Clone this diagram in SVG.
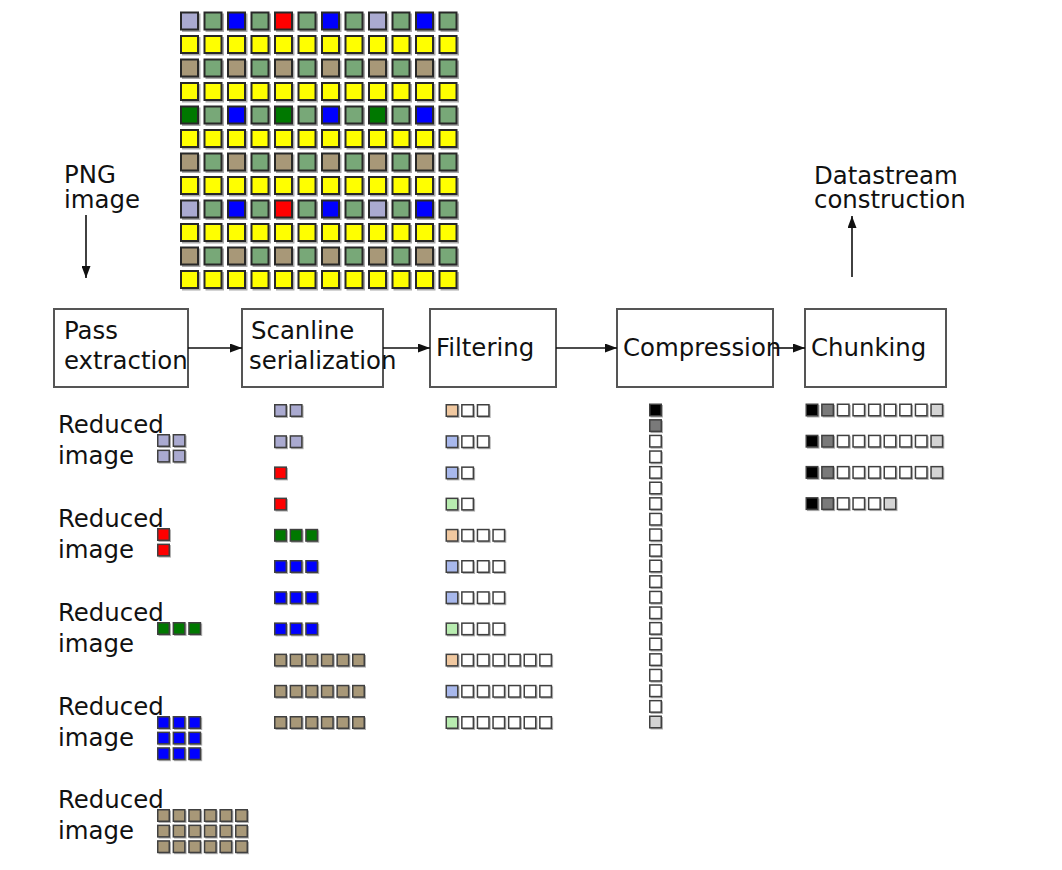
<svg xmlns="http://www.w3.org/2000/svg" xmlns:xlink="http://www.w3.org/1999/xlink" width="1062" height="870" viewBox="0 0 1062 870">
<style>
text{font-family:"DejaVu Sans","Liberation Sans",sans-serif;font-size:24.4px;fill:#111}
.box{fill:#fff;stroke:#555;stroke-width:2}
.conn{stroke:#111;stroke-width:1.6;fill:none}
</style>
<defs>
<marker id="ah" markerWidth="12" markerHeight="9" refX="12" refY="4.5" orient="auto" markerUnits="userSpaceOnUse"><path d="M0,0 L12,4.5 L0,9 Z" fill="#111"/></marker>
<g id="c"><rect x="2" y="2" width="18.5" height="18.5" fill="#aaa"/><rect x="1" y="1" width="17" height="17" stroke="#282828" stroke-width="2"/></g>
<g id="s"><rect x="1.5" y="1.5" width="12.5" height="12.5" fill="#b0b0b0"/><rect x="0.75" y="0.75" width="11.5" height="11.5" stroke="#404040" stroke-width="1.5"/></g>
<g id="rowA"><use href="#c" x="180" fill="#aaaad0"/><use href="#c" x="203.5" fill="#78a878"/><use href="#c" x="227" fill="#0000ff"/><use href="#c" x="250.5" fill="#78a878"/><use href="#c" x="274" fill="#ff0000"/><use href="#c" x="297.5" fill="#78a878"/><use href="#c" x="321" fill="#0000ff"/><use href="#c" x="344.5" fill="#78a878"/><use href="#c" x="368" fill="#aaaad0"/><use href="#c" x="391.5" fill="#78a878"/><use href="#c" x="415" fill="#0000ff"/><use href="#c" x="438.5" fill="#78a878"/></g>
<g id="rowG"><use href="#c" x="180" fill="#007800"/><use href="#c" x="203.5" fill="#78a878"/><use href="#c" x="227" fill="#0000ff"/><use href="#c" x="250.5" fill="#78a878"/><use href="#c" x="274" fill="#007800"/><use href="#c" x="297.5" fill="#78a878"/><use href="#c" x="321" fill="#0000ff"/><use href="#c" x="344.5" fill="#78a878"/><use href="#c" x="368" fill="#007800"/><use href="#c" x="391.5" fill="#78a878"/><use href="#c" x="415" fill="#0000ff"/><use href="#c" x="438.5" fill="#78a878"/></g>
<g id="rowT"><use href="#c" x="180" fill="#a89878"/><use href="#c" x="203.5" fill="#78a878"/><use href="#c" x="227" fill="#a89878"/><use href="#c" x="250.5" fill="#78a878"/><use href="#c" x="274" fill="#a89878"/><use href="#c" x="297.5" fill="#78a878"/><use href="#c" x="321" fill="#a89878"/><use href="#c" x="344.5" fill="#78a878"/><use href="#c" x="368" fill="#a89878"/><use href="#c" x="391.5" fill="#78a878"/><use href="#c" x="415" fill="#a89878"/><use href="#c" x="438.5" fill="#78a878"/></g>
<g id="rowY" fill="#ffff00"><use href="#c" x="180"/><use href="#c" x="203.5"/><use href="#c" x="227"/><use href="#c" x="250.5"/><use href="#c" x="274"/><use href="#c" x="297.5"/><use href="#c" x="321"/><use href="#c" x="344.5"/><use href="#c" x="368"/><use href="#c" x="391.5"/><use href="#c" x="415"/><use href="#c" x="438.5"/></g>
<g id="w2" fill="#fff"><use href="#s" x="15.6"/><use href="#s" x="31.2"/></g>
<g id="w1" fill="#fff"><use href="#s" x="15.6"/></g>
<g id="w3" fill="#fff"><use href="#s" x="15.6"/><use href="#s" x="31.2"/><use href="#s" x="46.8"/></g>
<g id="w6" fill="#fff"><use href="#s" x="15.6"/><use href="#s" x="31.2"/><use href="#s" x="46.8"/><use href="#s" x="62.4"/><use href="#s" x="78"/><use href="#s" x="93.6"/></g>
<g id="ch9"><use href="#s" x="0" fill="#000"/><use href="#s" x="15.6" fill="#7a7a7a"/><g fill="#fff"><use href="#s" x="31.2"/><use href="#s" x="46.8"/><use href="#s" x="62.4"/><use href="#s" x="78"/><use href="#s" x="93.6"/><use href="#s" x="109.2"/></g><use href="#s" x="124.8" fill="#d4d4d4"/></g>
</defs>
<rect width="1062" height="870" fill="#fff"/>

<g id="png-grid">
<use href="#rowA" y="11.5"/><use href="#rowY" y="35"/><use href="#rowT" y="58.5"/><use href="#rowY" y="82"/>
<use href="#rowG" y="105.5"/><use href="#rowY" y="129"/><use href="#rowT" y="152.5"/><use href="#rowY" y="176"/>
<use href="#rowA" y="199.5"/><use href="#rowY" y="223"/><use href="#rowT" y="246.5"/><use href="#rowY" y="270"/>
</g>

<g id="png-label"><text x="64" y="183">PNG</text><text x="64" y="208">image</text></g>
<g id="ds-label"><text x="814" y="184">Datastream</text><text x="814" y="208">construction</text></g>

<g id="pass-extraction"><rect class="box" x="54" y="309" width="134" height="78"/><text x="64" y="339">Pass</text><text x="64" y="369">extraction</text></g>
<g id="scanline-serialization"><rect class="box" x="242" y="309" width="141" height="78"/><text x="251" y="339">Scanline</text><text x="249" y="369">serialization</text></g>
<g id="filtering"><rect class="box" x="430" y="309" width="126" height="78"/><text x="436" y="356">Filtering</text></g>
<g id="compression"><rect class="box" x="617" y="309" width="156" height="78"/><text x="623" y="356">Compression</text></g>
<g id="chunking"><rect class="box" x="805" y="309" width="141" height="78"/><text x="811" y="356">Chunking</text></g>

<g id="connectors">
<line class="conn" x1="86" y1="215" x2="86" y2="278" stroke="#333" marker-end="url(#ah)"/>
<line class="conn" x1="188" y1="348" x2="242" y2="348" marker-end="url(#ah)"/>
<line class="conn" x1="383" y1="348" x2="430" y2="348" marker-end="url(#ah)"/>
<line class="conn" x1="556" y1="348" x2="617" y2="348" marker-end="url(#ah)"/>
<line class="conn" x1="773" y1="348" x2="805" y2="348" marker-end="url(#ah)"/>
<line class="conn" x1="852" y1="277" x2="852" y2="216" marker-end="url(#ah)"/>
</g>

<g id="reduced-images">
<text x="58" y="433">Reduced</text><text x="58" y="464">image</text>
<g fill="#aaaad0"><use href="#s" x="157" y="434"/><use href="#s" x="172.6" y="434"/><use href="#s" x="157" y="449.6"/><use href="#s" x="172.6" y="449.6"/></g>
<text x="58" y="527">Reduced</text><text x="58" y="558">image</text>
<g fill="#ff0000"><use href="#s" x="157" y="528"/><use href="#s" x="157" y="543.6"/></g>
<text x="58" y="621">Reduced</text><text x="58" y="652">image</text>
<g fill="#007800"><use href="#s" x="157" y="622"/><use href="#s" x="172.6" y="622"/><use href="#s" x="188.2" y="622"/></g>
<text x="58" y="715">Reduced</text><text x="58" y="746">image</text>
<g fill="#0000ff"><use href="#s" x="157" y="716"/><use href="#s" x="172.6" y="716"/><use href="#s" x="188.2" y="716"/><use href="#s" x="157" y="731.6"/><use href="#s" x="172.6" y="731.6"/><use href="#s" x="188.2" y="731.6"/><use href="#s" x="157" y="747.2"/><use href="#s" x="172.6" y="747.2"/><use href="#s" x="188.2" y="747.2"/></g>
<text x="58" y="808">Reduced</text><text x="58" y="839">image</text>
<g fill="#a89878">
<use href="#s" x="157" y="809"/><use href="#s" x="172.6" y="809"/><use href="#s" x="188.2" y="809"/><use href="#s" x="203.8" y="809"/><use href="#s" x="219.4" y="809"/><use href="#s" x="235" y="809"/>
<use href="#s" x="157" y="824.6"/><use href="#s" x="172.6" y="824.6"/><use href="#s" x="188.2" y="824.6"/><use href="#s" x="203.8" y="824.6"/><use href="#s" x="219.4" y="824.6"/><use href="#s" x="235" y="824.6"/>
<use href="#s" x="157" y="840.2"/><use href="#s" x="172.6" y="840.2"/><use href="#s" x="188.2" y="840.2"/><use href="#s" x="203.8" y="840.2"/><use href="#s" x="219.4" y="840.2"/><use href="#s" x="235" y="840.2"/>
</g>
</g>

<g id="scanlines" transform="translate(274,0)">
<g fill="#aaaad0"><use href="#s" y="404"/><use href="#s" x="15.6" y="404"/><use href="#s" y="435.2"/><use href="#s" x="15.6" y="435.2"/></g>
<g fill="#ff0000"><use href="#s" y="466.4"/><use href="#s" y="497.6"/></g>
<g fill="#007800"><use href="#s" y="528.8"/><use href="#s" x="15.6" y="528.8"/><use href="#s" x="31.2" y="528.8"/></g>
<g fill="#0000ff"><use href="#s" y="560"/><use href="#s" x="15.6" y="560"/><use href="#s" x="31.2" y="560"/><use href="#s" y="591.2"/><use href="#s" x="15.6" y="591.2"/><use href="#s" x="31.2" y="591.2"/><use href="#s" y="622.4"/><use href="#s" x="15.6" y="622.4"/><use href="#s" x="31.2" y="622.4"/></g>
<g fill="#a89878">
<use href="#s" y="653.6"/><use href="#s" x="15.6" y="653.6"/><use href="#s" x="31.2" y="653.6"/><use href="#s" x="46.8" y="653.6"/><use href="#s" x="62.4" y="653.6"/><use href="#s" x="78" y="653.6"/>
<use href="#s" y="684.8"/><use href="#s" x="15.6" y="684.8"/><use href="#s" x="31.2" y="684.8"/><use href="#s" x="46.8" y="684.8"/><use href="#s" x="62.4" y="684.8"/><use href="#s" x="78" y="684.8"/>
<use href="#s" y="716"/><use href="#s" x="15.6" y="716"/><use href="#s" x="31.2" y="716"/><use href="#s" x="46.8" y="716"/><use href="#s" x="62.4" y="716"/><use href="#s" x="78" y="716"/>
</g>
</g>

<g id="filtered" transform="translate(445.5,0)">
<use href="#s" y="404" fill="#f0c8a0"/><use href="#w2" y="404"/>
<use href="#s" y="435.2" fill="#a8b8ec"/><use href="#w2" y="435.2"/>
<use href="#s" y="466.4" fill="#a8b8ec"/><use href="#w1" y="466.4"/>
<use href="#s" y="497.6" fill="#b8ecb0"/><use href="#w1" y="497.6"/>
<use href="#s" y="528.8" fill="#f0c8a0"/><use href="#w3" y="528.8"/>
<use href="#s" y="560" fill="#a8b8ec"/><use href="#w3" y="560"/>
<use href="#s" y="591.2" fill="#a8b8ec"/><use href="#w3" y="591.2"/>
<use href="#s" y="622.4" fill="#b8ecb0"/><use href="#w3" y="622.4"/>
<use href="#s" y="653.6" fill="#f0c8a0"/><use href="#w6" y="653.6"/>
<use href="#s" y="684.8" fill="#a8b8ec"/><use href="#w6" y="684.8"/>
<use href="#s" y="716" fill="#b8ecb0"/><use href="#w6" y="716"/>
</g>

<g id="compressed" transform="translate(649,0)">
<use href="#s" y="403.5" fill="#000"/><use href="#s" y="419.1" fill="#7a7a7a"/>
<g fill="#fff">
<use href="#s" y="434.7"/><use href="#s" y="450.3"/><use href="#s" y="465.9"/><use href="#s" y="481.5"/><use href="#s" y="497.1"/><use href="#s" y="512.7"/><use href="#s" y="528.3"/><use href="#s" y="543.9"/><use href="#s" y="559.5"/><use href="#s" y="575.1"/><use href="#s" y="590.7"/><use href="#s" y="606.3"/><use href="#s" y="621.9"/><use href="#s" y="637.5"/><use href="#s" y="653.1"/><use href="#s" y="668.7"/><use href="#s" y="684.3"/><use href="#s" y="699.9"/>
</g>
<use href="#s" y="715.5" fill="#d4d4d4"/>
</g>

<g id="chunks" transform="translate(805.5,0)">
<use href="#ch9" y="403.5"/><use href="#ch9" y="434.7"/><use href="#ch9" y="465.9"/>
<use href="#s" y="497.1" fill="#000"/><use href="#s" x="15.6" y="497.1" fill="#7a7a7a"/><g fill="#fff"><use href="#s" x="31.2" y="497.1"/><use href="#s" x="46.8" y="497.1"/><use href="#s" x="62.4" y="497.1"/></g><use href="#s" x="78" y="497.1" fill="#d4d4d4"/>
</g>
</svg>
